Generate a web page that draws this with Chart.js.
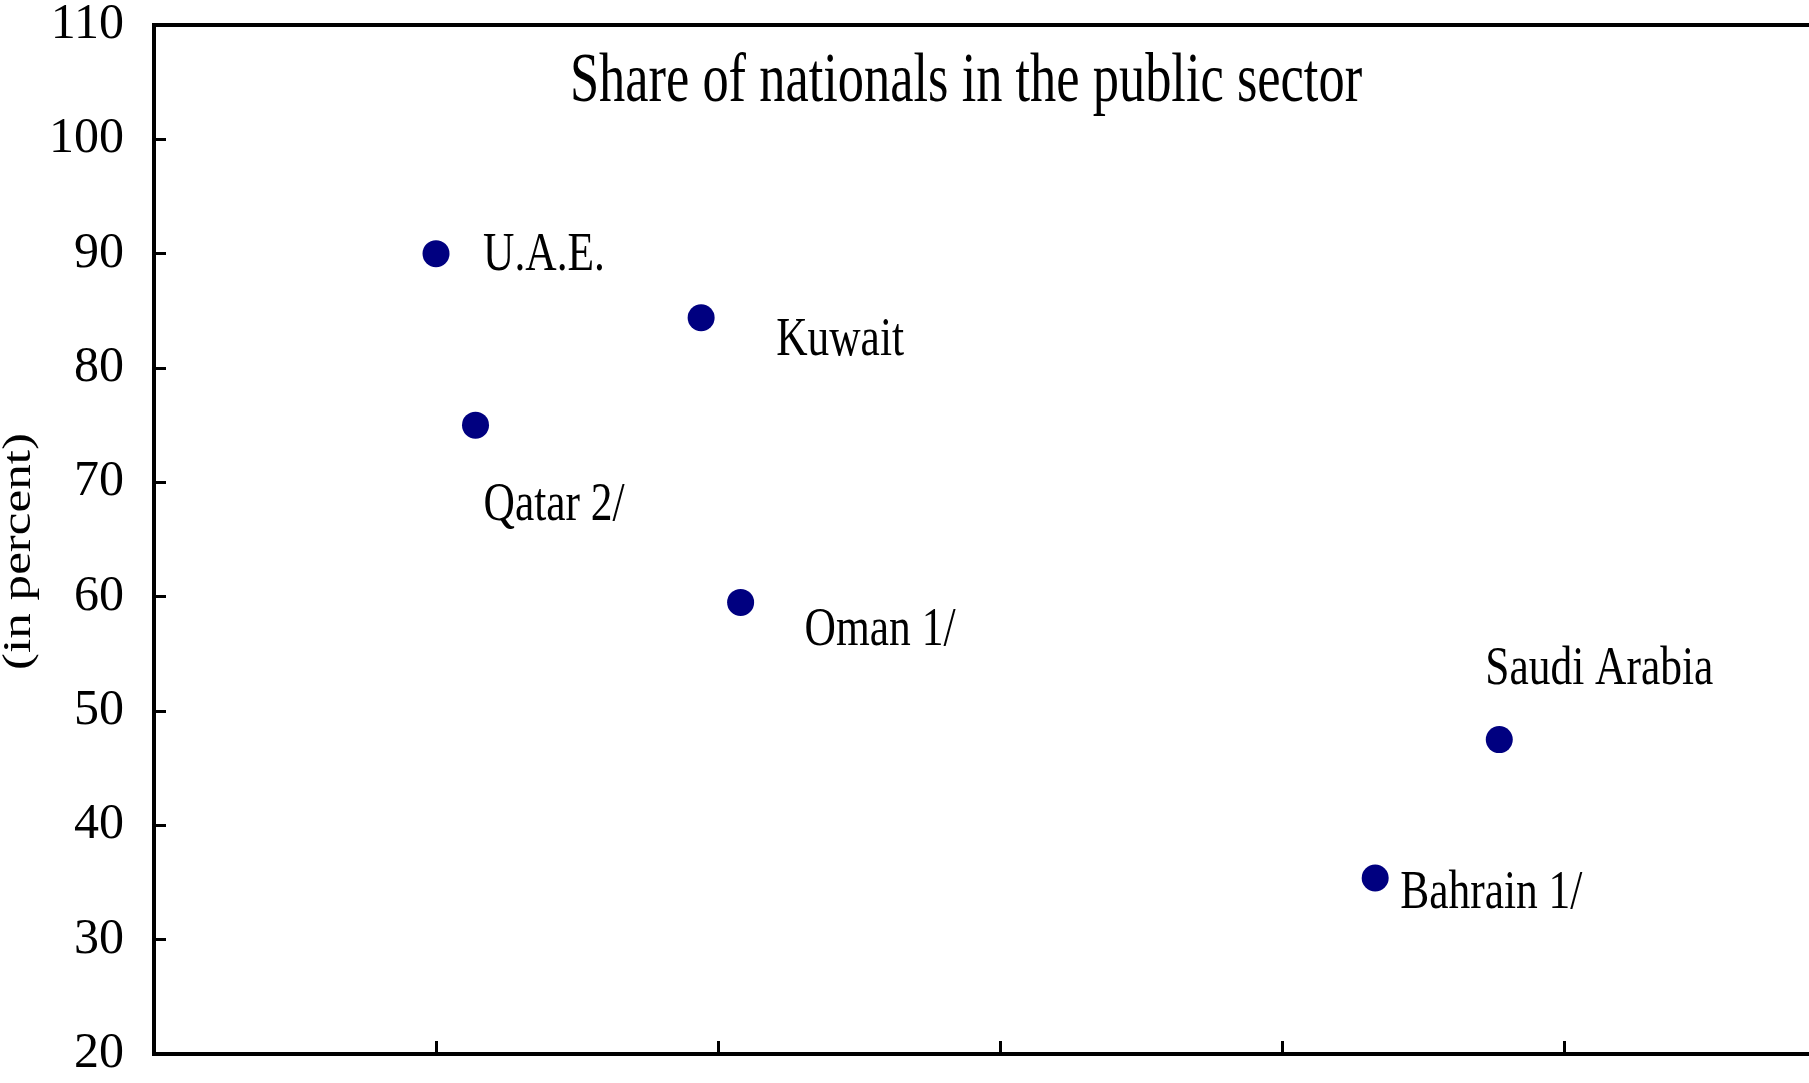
<!DOCTYPE html>
<html>
<head>
<meta charset="utf-8">
<title>Share of nationals in the public sector</title>
<script src="https://cdn.jsdelivr.net/npm/chart.js@4.4.1/dist/chart.umd.min.js"></script>
<style>
  html, body { margin: 0; padding: 0; background: #fff; overflow: hidden; }
  /* a bit wider than the window: Chart.js keeps room for the dot radius on the right,
     the plot frame runs off the right edge in the original */
  #wrap { width: 1823px; height: 1083px; position: relative; }
  canvas { display: block; }
</style>
</head>
<body>
<div id="wrap"><canvas id="myChart"></canvas></div>
<script>
// data
const countries = ['U.A.E.', 'Kuwait', 'Qatar 2/', 'Oman 1/', 'Saudi Arabia', 'Bahrain 1/'];
const xPos = [1.0, 1.94, 1.14, 2.08, 4.77, 4.33];
const share = [90.0, 84.4, 75.0, 59.5, 47.5, 35.4];
const yMin = 20;
const yMax = 110;
const yStep = 10;
const xMax = 5.87;
const chartTitle = 'Share of nationals in the public sector';
const yTitle = '(in percent)';

// where each label sits relative to its dot (px, to text left / baseline)
const labelOffsets = [[47, 16], [75, 37], [8, 95], [64, 43], [-14, -56], [25, 30]];

const serif = '"Liberation Serif", "Times New Roman", serif';

// text in the original is narrow, so squeeze it horizontally
function squeezedText(ctx, text, x, y, sx) {
  ctx.save();
  ctx.translate(x, y);
  ctx.scale(sx, 1);
  ctx.fillText(text, 0, 0);
  ctx.restore();
}

const annotate = {
  id: 'annotate',
  afterDatasetsDraw(chart) {
    const ctx = chart.ctx;
    const area = chart.chartArea;
    const pts = chart.getDatasetMeta(0).data;
    ctx.save();
    ctx.fillStyle = '#000';
    ctx.textBaseline = 'alphabetic';

    ctx.font = '55px ' + serif;
    ctx.textAlign = 'left';
    countries.forEach((name, i) => {
      const off = labelOffsets[i];
      squeezedText(ctx, name, pts[i].x + off[0], pts[i].y + off[1], 0.79);
    });

    ctx.font = '69px ' + serif;
    ctx.textAlign = 'center';
    squeezedText(ctx, chartTitle, area.left + 812, area.top + 76, 0.76);

    // vertical axis title
    ctx.font = '39px ' + serif;
    ctx.textAlign = 'center';
    ctx.textBaseline = 'middle';
    ctx.translate(20, (area.top + area.bottom) / 2 + 12);
    ctx.rotate(-Math.PI / 2);
    ctx.scale(1.31, 1);
    ctx.fillText(yTitle, 0, 0);
    ctx.restore();
  }
};

const ctx1 = document.getElementById('myChart');

new Chart(ctx1, {
  type: 'scatter',
  data: {
    datasets: [{
      data: xPos.map((x, i) => ({ x: x, y: share[i] })),
      backgroundColor: '#000080',
      pointRadius: 13.5,
      pointBorderWidth: 0,
      pointHoverRadius: 13.5
    }]
  },
  options: {
    responsive: true,
    maintainAspectRatio: false,
    animation: false,
    layout: { padding: 0 },
    plugins: {
      legend: { display: false },
      tooltip: { enabled: false }
    },
    scales: {
      x: {
        type: 'linear',
        position: 'bottom',
        min: 0,
        max: xMax,
        ticks: { display: false, stepSize: 1, includeBounds: false },
        grid: { drawOnChartArea: false, tickLength: -13, tickWidth: 3, tickColor: '#000' },
        border: { display: true, color: '#000', width: 4 },
        afterBuildTicks(scale) {
          scale.ticks = scale.ticks.filter(t => t.value > 0 && Number.isInteger(t.value));
        },
        afterFit(scale) {
          scale.height = 29;
          scale.paddingLeft = 0;
          scale.paddingRight = 0;
        }
      },
      x2: {
        type: 'linear',
        position: 'top',
        display: true,
        min: 0,
        max: 1,
        ticks: { display: false },
        grid: { display: false },
        border: { display: true, color: '#000', width: 4 },
        afterFit(scale) {
          scale.height = 25;
        }
      },
      y: {
        min: yMin,
        max: yMax,
        ticks: {
          stepSize: yStep,
          padding: 42,
          color: '#000',
          font: { family: serif, size: 50, lineHeight: 1 }
        },
        grid: { drawOnChartArea: false, tickLength: -12, tickWidth: 3, tickColor: '#000' },
        border: { display: true, color: '#000', width: 4 },
        afterFit(scale) {
          scale.width = 154;
          scale.paddingTop = 0;
          scale.paddingBottom = 0;
        }
      }
    }
  },
  plugins: [annotate]
});
</script>
</body>
</html>
